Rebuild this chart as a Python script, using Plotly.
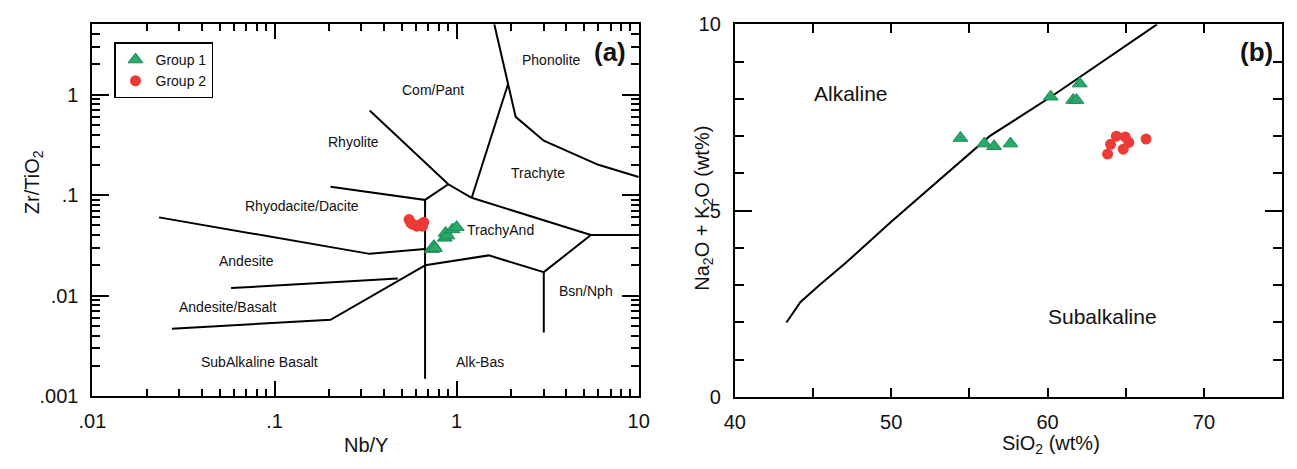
import numpy as np
import plotly.graph_objects as go

# ---------------- data: panel (a) Nb/Y vs Zr/TiO2 ----------------
g1_nby = [0.73, 0.75, 0.76, 0.86, 0.87, 0.89, 0.95, 1.00]
g1_zrti = [0.0290, 0.0310, 0.0295, 0.0375, 0.0420, 0.0395, 0.0455, 0.0480]
g2_nby = [0.548, 0.560, 0.575, 0.604, 0.635, 0.650, 0.660]
g2_zrti = [0.0570, 0.0530, 0.0512, 0.0490, 0.0512, 0.0490, 0.0536]

# field boundaries (Nb/Y, Zr/TiO2)
bnd_a = [
    ([1.61, 1.92, 2.11, 3.01, 6.0, 10.0], [5.0, 1.29, 0.60, 0.348, 0.20, 0.151]),
    ([1.92, 1.21], [1.29, 0.094]),
    ([0.333, 0.90, 1.21], [0.695, 0.128, 0.094]),
    ([1.21, 5.46, 10.0], [0.094, 0.040, 0.040]),
    ([0.203, 0.671, 0.671], [0.121, 0.0895, 0.00149]),
    ([0.671, 0.90], [0.0895, 0.128]),
    ([0.0232, 0.333, 0.671], [0.060, 0.026, 0.029]),
    ([0.671, 1.50, 3.01, 5.46], [0.020, 0.0251, 0.0171, 0.040]),
    ([3.01, 3.01], [0.0171, 0.00428]),
    ([0.0577, 0.475], [0.01186, 0.01475]),
    ([0.0273, 0.203, 0.671], [0.00468, 0.00573, 0.020]),
]
labels_a = ["Phonolite", "Com/Pant", "Rhyolite", "Trachyte", "Rhyodacite/Dacite",
            "TrachyAnd", "Andesite", "Bsn/Nph", "Andesite/Basalt",
            "SubAlkaline Basalt", "Alk-Bas"]
labels_a_x = [3.32, 0.738, 0.273, 2.81, 0.141, 1.75, 0.0698, 5.15, 0.0551, 0.0824, 1.35]
labels_a_y = [2.22, 1.11, 0.336, 0.166, 0.0774, 0.0445, 0.022, 0.0110, 0.00766, 0.00218, 0.00218]
xticks_a = [0.01, 0.1, 1, 10]
xticks_a_text = [".01", ".1", "1", "10"]
yticks_a = [0.001, 0.01, 0.1, 1]
yticks_a_text = [".001", ".01", ".1", "1"]

# ---------------- data: panel (b) SiO2 vs Na2O+K2O ----------------
g1_sio2 = [54.43, 55.95, 56.58, 57.63, 60.20, 61.64, 61.85, 62.06]
g1_alk = [6.95, 6.80, 6.73, 6.80, 8.06, 7.97, 7.97, 8.41]
g2_sio2 = [63.84, 64.03, 64.40, 64.97, 64.84, 65.20, 66.30]
g2_alk = [6.52, 6.78, 7.00, 6.98, 6.65, 6.83, 6.92]
bnd_sio2 = [43.3, 44.2, 45.4, 47.1, 50.0, 53.8, 56.3, 60.2, 63.7, 67.0]
bnd_alk = [2.0, 2.55, 3.0, 3.6, 4.7, 6.1, 7.0, 8.05, 9.05, 10.0]

GREEN = "#2aa86a"
GREEN_EDGE = "#1b8a55"
RED = "#ec3b37"
FONT = "Liberation Sans, Arial, sans-serif"
W, H = 1297, 469

fig = go.Figure()

for bx, by in bnd_a:
    fig.add_trace(go.Scatter(x=bx, y=by, mode="lines", line=dict(color="black", width=2),
                             showlegend=False, hoverinfo="skip", xaxis="x", yaxis="y"))
fig.add_trace(go.Scatter(x=g1_nby, y=g1_zrti, mode="markers", name="Group 1",
                         marker=dict(symbol="triangle-up", size=13, color=GREEN,
                                     line=dict(color=GREEN_EDGE, width=1)),
                         xaxis="x", yaxis="y"))
fig.add_trace(go.Scatter(x=g2_nby, y=g2_zrti, mode="markers", name="Group 2",
                         marker=dict(symbol="circle", size=11, color=RED),
                         xaxis="x", yaxis="y"))

fig.add_trace(go.Scatter(x=bnd_sio2, y=bnd_alk, mode="lines", line=dict(color="black", width=2),
                         showlegend=False, xaxis="x2", yaxis="y2"))
fig.add_trace(go.Scatter(x=g1_sio2, y=g1_alk, mode="markers", name="Group 1", showlegend=False,
                         marker=dict(symbol="triangle-up", size=13, color=GREEN,
                                     line=dict(color=GREEN_EDGE, width=1)),
                         xaxis="x2", yaxis="y2"))
fig.add_trace(go.Scatter(x=g2_sio2, y=g2_alk, mode="markers", name="Group 2", showlegend=False,
                         marker=dict(symbol="circle", size=11, color=RED),
                         xaxis="x2", yaxis="y2"))

def ann(x, y, text, size, xref="paper", yref="paper", angle=0):
    return dict(x=x, y=y, xref=xref, yref=yref, text=text, showarrow=False,
                xanchor="center", yanchor="middle", textangle=angle,
                font=dict(size=size, color="#111", family=FONT))

annotations = []
for t, lx, ly in zip(labels_a, labels_a_x, labels_a_y):
    annotations.append(ann(np.log10(lx), np.log10(ly), t, 14, "x", "y"))
annotations += [
    ann(608 / W, 1 - 43 / H, "<b>(a)</b>", 26),
    ann(1267 / W, 1 - 43 / H, "<b>(b)</b>", 26),
    ann(47.4, 8.14, "Alkaline", 21, "x2", "y2"),
    ann(63.5, 2.15, "Subalkaline", 21, "x2", "y2"),
    # axis titles
    ann(359 / W, 1 - 455 / H, "Nb/Y", 20),
    ann(1057 / W, 1 - 455 / H, "SiO<sub>2</sub> (wt%)", 20),
    ann(20 / W, 1 - 180 / H, "Zr/TiO<sub>2</sub>", 20, angle=-90),
    ann(703 / W, 1 - 207 / H, "Na<sub>2</sub>O + K<sub>2</sub>O (wt%)", 20, angle=-90),
]

axis_common = dict(showline=True, linecolor="black", linewidth=2, mirror="allticks",
                   showgrid=False, zeroline=False, ticks="inside", tickcolor="black",
                   tickwidth=1.5, tickfont=dict(size=20, color="#111", family=FONT))

minor_x_a = [m * 10.0 ** e for e in (-2, -1, 0) for m in range(2, 10)]
minor_y_a = [m * 10.0 ** e for e in (-3, -2, -1, 0) for m in range(2, 10) if m * 10.0 ** e <= 5]

fig.update_layout(
    width=W, height=H,
    margin=dict(l=0, r=0, t=0, b=0),
    paper_bgcolor="white", plot_bgcolor="white",
    font=dict(family=FONT, color="#111"),
    xaxis=dict(axis_common, type="log", domain=[80 / W, 637 / W],
               range=[-2, 1], tickvals=xticks_a, ticktext=xticks_a_text, ticklen=15,
               ticklabelstandoff=6,
               minor=dict(tickvals=minor_x_a, ticks="inside", ticklen=7,
                          tickcolor="black", tickwidth=1.5, showgrid=False),
               anchor="y"),
    yaxis=dict(axis_common, type="log", domain=[1 - 404 / H, 1 - 14 / H],
               range=[-3, np.log10(5)], tickvals=yticks_a, ticktext=yticks_a_text,
               ticklen=17, ticklabelstandoff=8,
               minor=dict(tickvals=minor_y_a, ticks="inside", ticklen=8,
                          tickcolor="black", tickwidth=1.5, showgrid=False),
               anchor="x"),
    xaxis2=dict(axis_common, domain=[735 / W, 1293 / W], range=[40, 75],
                tickvals=[40, 50, 60, 70], ticklen=9, ticklabelstandoff=6,
                minor=dict(dtick=5, ticks="inside", ticklen=9, tickcolor="black",
                           tickwidth=1.5, showgrid=False),
                anchor="y2"),
    yaxis2=dict(axis_common, domain=[1 - 405 / H, 1 - 14 / H], range=[0, 10],
                tickvals=[0, 5, 10], ticklen=17, ticklabelstandoff=8,
                minor=dict(dtick=1, ticks="inside", ticklen=9, tickcolor="black",
                           tickwidth=1.5, showgrid=False),
                anchor="x2"),
    legend=dict(x=102 / W, y=1 - 33 / H, xanchor="left", yanchor="top",
                bordercolor="black", borderwidth=1.5, bgcolor="white",
                font=dict(size=14, color="#111", family=FONT),
                itemwidth=30, tracegroupgap=0),
    annotations=annotations,
    showlegend=True,
)

fig.write_html("out.html", config={"displayModeBar": False},
               post_script="document.body.style.margin='0';document.body.style.overflow='hidden';")
